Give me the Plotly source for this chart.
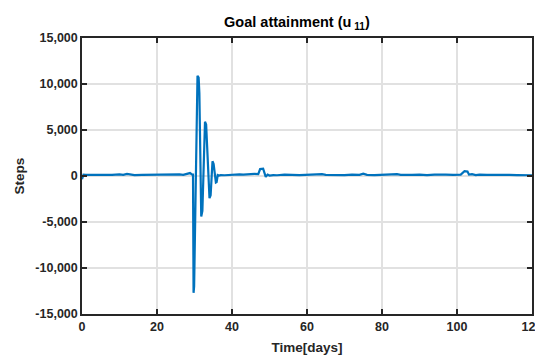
import plotly.graph_objects as go

# Time (days) and goal attainment values (steps)
t_pre = [0, 0.4, 1, 3, 5, 6, 8, 10, 11, 12, 13, 14, 16, 18, 19, 20, 22, 24, 25, 26, 27, 28, 28.8, 29.4]
v_pre = [-350, 150, 120, 100, 150, 100, 130, 180, 120, 220, 150, 100, 130, 150, 100, 170, 120, 150, 140, 180, 130, 200, 320, 150]

t_osc = [29.6, 29.75, 29.9, 30.8, 31.1, 31.3, 31.8, 32.1, 32.8, 33.1, 34.0, 34.3, 34.8, 35.1, 35.7, 35.9, 36.2, 36.5]
v_osc = [150, -12700, -12000, 10900, 10700, 9000, -4400, -3800, 5900, 5600, -2400, -2100, 1600, 1300, -700, -650, 100, 50]

t_post = [37, 38, 39, 40, 41, 42, 43, 44, 45, 46, 47, 47.5, 48.3, 48.6, 49, 49.5, 50, 51, 52, 54, 55, 56, 58,
          60, 62, 63, 64, 65, 67, 68, 70, 72, 74, 75, 76, 78, 80, 82, 84, 85, 86, 88, 90, 92, 94, 95, 97,
          99, 101, 102, 102.8, 103.2, 104, 105, 106, 108, 110, 112, 114, 116, 118, 120]
v_post = [100, 80, 120, 150, 130, 180, 150, 200, 170, 230, 200, 750, 800, 400, -100, 150, 50, 100, 80, 150, 100, 130, 100,
          120, 100, 150, 200, 120, 100, 150, 100, 160, 120, 250, 120, 100, 130, 100, 200, 120, 100, 130, 150, 100, 140, 120, 150,
          130, 150, 520, 480, 150, 200, 100, 150, 130, 100, 150, 120, 100, 130, 80]

time = t_pre + t_osc + t_post
steps = v_pre + v_osc + v_post

x_ticks = [0, 20, 40, 60, 80, 100, 120]
y_ticks = [-15000, -10000, -5000, 0, 5000, 10000, 15000]
y_labels = ["-15,000", "-10,000", "-5,000", "0", "5,000", "10,000", "15,000"]

FONT = "Liberation Sans, Arial, sans-serif"

fig = go.Figure()
fig.add_trace(go.Scatter(x=time, y=steps, mode="lines",
                         line=dict(color="#0072BD", width=2.2), showlegend=False))

axis_common = dict(showline=True, linecolor="#262626", linewidth=1.5, mirror="ticks",
                   ticks="inside", ticklen=5, tickwidth=1.5, tickcolor="#262626",
                   showgrid=True, gridcolor="#e1e1e1", gridwidth=1.5, zeroline=False,
                   automargin=False, ticklabeloverflow="allow",
                   tickfont=dict(family=FONT, size=12.5, color="#262626", weight="bold"))

fig.update_layout(
    width=535, height=361,
    margin=dict(l=82, r=3, t=38, b=47),
    plot_bgcolor="white", paper_bgcolor="white",
    title=dict(text="Goal attainment (u<sub> 11</sub>)", x=0.555, xanchor="center", y=0.94, yanchor="middle",
               font=dict(family=FONT, size=14.5, color="#000000", weight="bold")),
    xaxis=dict(range=[0, 120], tickvals=x_ticks, ticktext=[str(v) for v in x_ticks],
               title=dict(text="Time[days]", standoff=10,
                          font=dict(family=FONT, size=13.5, color="#262626", weight="bold")),
               **axis_common),
    yaxis=dict(range=[-15000, 15000], tickvals=y_ticks, ticktext=y_labels,
               title=dict(text="Steps", standoff=8,
                          font=dict(family=FONT, size=13.5, color="#262626", weight="bold")),
               **axis_common),
)

fig.write_html(
    "out.html",
    config={"displayModeBar": False},
    post_script="document.documentElement.style.overflow='hidden';"
                "document.body.style.margin='0';document.body.style.overflow='hidden';",
)
